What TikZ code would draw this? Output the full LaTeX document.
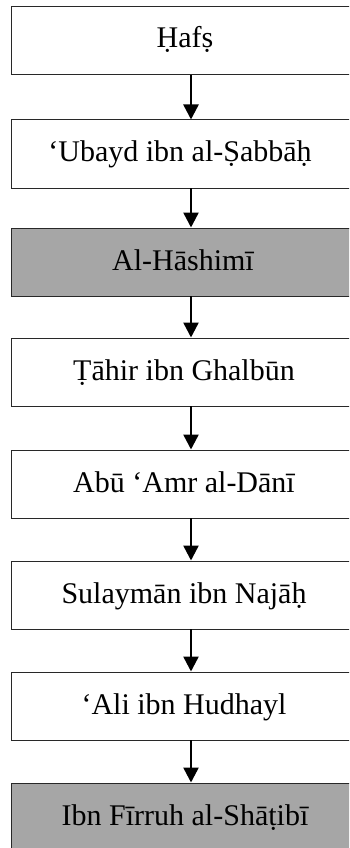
\documentclass[tikz,border=0pt]{standalone}
\usepackage{fontspec}
\setmainfont{Liberation Serif}
\usetikzlibrary{arrows.meta}
\definecolor{boxline}{RGB}{40,40,40}
\definecolor{shade}{RGB}{166,166,166}
\tikzset{
  chainbox/.style={draw=boxline, line width=1pt, fill=white, minimum width=360pt,
    minimum height=68pt, inner sep=0pt, outer sep=0pt},
  marked/.style={chainbox, fill=shade},
  label text/.style={font=\fontsize{30}{36}\selectfont, anchor=base, inner sep=0pt},
  link/.style={line width=2.5pt, -{Triangle[width=15pt,length=15pt]}, shorten >=0.5pt}
}
\begin{document}
\begin{tikzpicture}[x=1pt,y=-1pt]
\useasboundingbox (0,0) rectangle (349,848);
\clip (0,0) rectangle (349,848);
% boxes of the chain, top to bottom
\node[chainbox] (b1) at (191,41) {};
\node[chainbox] (b2) at (191,154) {};
\node[marked]   (b3) at (191,262) {};
\node[chainbox] (b4) at (191,372) {};
\node[chainbox] (b5) at (191,484) {};
\node[chainbox] (b6) at (191,595) {};
\node[chainbox] (b7) at (191,706) {};
\node[marked]   (b8) at (191,817) {};
% names
\node[label text] (t1) at ([xshift=-6pt,yshift=-7pt]b1.center) {Ḥafṣ};
\node[label text] (t2) at ([xshift=-11pt,yshift=-7pt]b2.center) {‘Ubayd ibn al-Ṣabbāḥ};
\node[label text] (t3) at ([xshift=-8pt,yshift=-8pt]b3.center) {Al-Hāshimī};
\node[label text] (t4) at ([xshift=-7pt,yshift=-8pt]b4.center) {Ṭāhir ibn Ghalbūn};
\node[label text] (t5) at ([xshift=-7pt,yshift=-8pt]b5.center) {Abū ‘Amr al-Dānī};
\node[label text] (t6) at ([xshift=-7pt,yshift=-8pt]b6.center) {Sulaymān ibn Najāḥ};
\node[label text] (t7) at ([xshift=-7pt,yshift=-8pt]b7.center) {‘Ali ibn Hudhayl};
\node[label text] (t8) at ([xshift=-6pt,yshift=-8pt]b8.center) {Ibn Fīrruh al-Shāṭibī};
% links
\foreach \a/\b in {b1/b2,b2/b3,b3/b4,b4/b5,b5/b6,b6/b7,b7/b8}
  \draw[link] (\a.south) -- (\b.north);
\end{tikzpicture}
\end{document}
